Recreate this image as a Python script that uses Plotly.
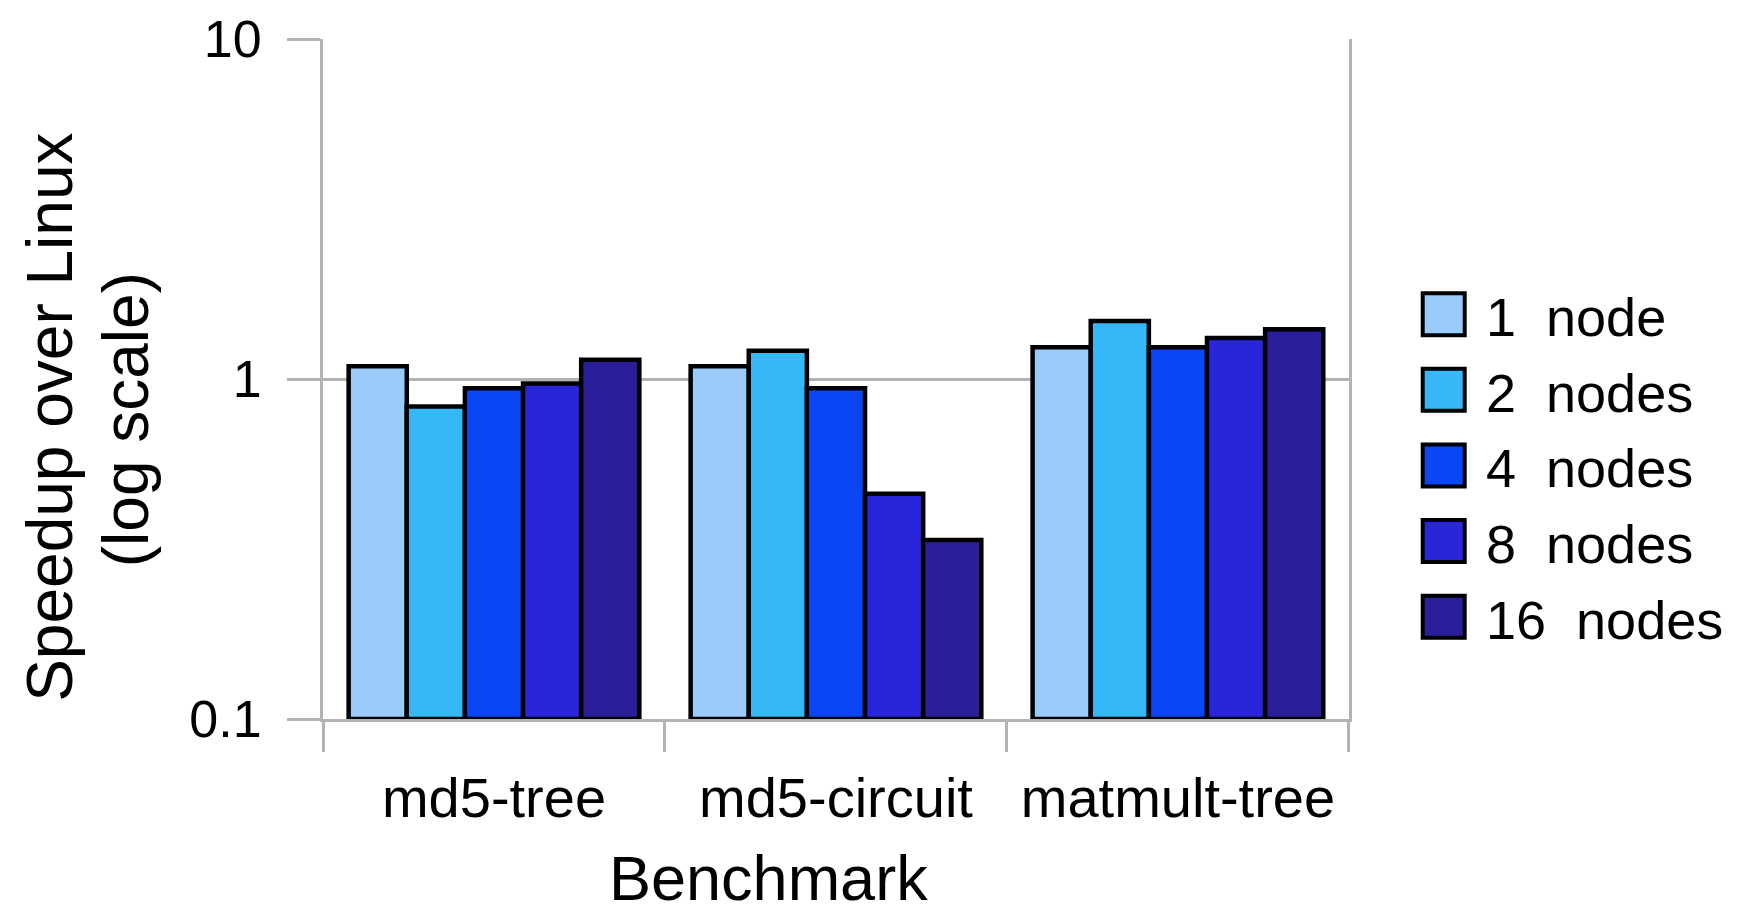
import plotly.graph_objects as go

benchmarks = ["md5-tree", "md5-circuit", "matmult-tree"]
series_names = ["1  node", "2  nodes", "4  nodes", "8  nodes", "16  nodes"]
speedup_1 = [1.09, 1.09, 1.24]
speedup_2 = [0.83, 1.21, 1.48]
speedup_4 = [0.94, 0.94, 1.24]
speedup_8 = [0.97, 0.46, 1.32]
speedup_16 = [1.14, 0.336, 1.40]
colors = ["#9BCBFA", "#36B7F8", "#0A46F4", "#2825DB", "#2B1E9A"]
y_ticks = [0.1, 1, 10]
y_ticktext = ["0.1", "1", "10"]
base_value = 0.1

series = [speedup_1, speedup_2, speedup_4, speedup_8, speedup_16]
FONT = "Liberation Sans, Arial, sans-serif"
GRAY = "#b3b3b3"

fig = go.Figure()
for name, vals, col in zip(series_names, series, colors):
    fig.add_trace(go.Bar(
        x=benchmarks, y=[v - base_value for v in vals], base=[base_value] * len(vals),
        name=name, marker=dict(color=col, line=dict(color="black", width=4.5)),
        cliponaxis=False, showlegend=False, hoverinfo="skip",
    ))

# legend swatches drawn as a scatter on their own hidden axes
fig.add_trace(go.Scatter(
    x=[0] * len(series_names), y=series_names, mode="markers",
    marker=dict(symbol="square", size=42, color=colors, line=dict(color="black", width=4)),
    xaxis="x2", yaxis="y2", showlegend=False, hoverinfo="skip", cliponaxis=False,
))

legend_labels = [
    dict(text=s, x=0, y=s, xref="x2", yref="y2", xanchor="left", yanchor="middle",
         xshift=40, yshift=-3, showarrow=False, font=dict(size=54))
    for s in series_names
]

fig.update_layout(
    width=1738, height=916,
    margin=dict(l=323, r=10, t=34, b=197),
    paper_bgcolor="white", plot_bgcolor="white",
    barmode="group", bargap=0.15, bargroupgap=0,
    font=dict(family=FONT, color="black"),
    xaxis=dict(
        domain=[0, 0.7302], type="category", tickson="boundaries",
        ticks="outside", ticklen=30, tickwidth=3, tickcolor=GRAY,
        showline=True, linecolor=GRAY, linewidth=3, showgrid=False,
        tickfont=dict(size=56), layer="below traces", ticklabelstandoff=28,
    ),
    yaxis=dict(
        type="log", range=[-1, 1], tickvals=y_ticks, ticktext=y_ticktext,
        ticks="outside", ticklen=33, tickwidth=3, tickcolor=GRAY,
        showgrid=True, gridcolor=GRAY, gridwidth=3,
        showline=True, linecolor=GRAY, linewidth=3, mirror=True,
        zeroline=False, tickfont=dict(size=52), layer="below traces",
        ticklabelstandoff=15,
    ),
    xaxis2=dict(domain=[0.7808, 1], range=[-0.25, 3], visible=False, anchor="y2"),
    yaxis2=dict(domain=[0.0949, 0.6509], range=[4.5, -0.5], visible=False, anchor="x2",
                type="category", categoryorder="array", categoryarray=series_names),
    annotations=[
        dict(text="Speedup over Linux", textangle=-90, xref="paper", yref="paper",
             x=-0.1943, y=0.4429, xanchor="center", yanchor="middle", showarrow=False,
             font=dict(size=64)),
        dict(text="(log scale)", textangle=-90, xref="paper", yref="paper",
             x=-0.1402, y=0.4394, xanchor="center", yanchor="middle", showarrow=False,
             font=dict(size=64)),
        dict(text="Benchmark", xref="paper", yref="paper", x=0.3172, y=-0.2876,
             xanchor="center", yanchor="bottom", showarrow=False, font=dict(size=63)),
    ] + legend_labels,
)

fig.write_html("out.html", config={"displayModeBar": False},
               post_script="document.body.style.margin='0';")
